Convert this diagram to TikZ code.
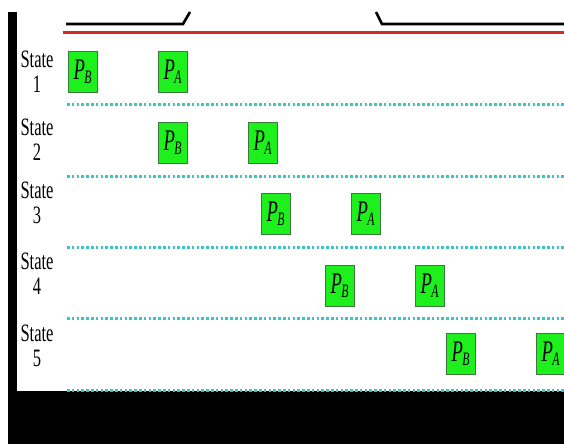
\documentclass[tikz,border=0pt]{standalone}
\usepackage{fontspec}
\setmainfont{Liberation Serif}
\usepackage{graphicx}
\definecolor{boxgreen}{HTML}{1EF01E}
\definecolor{boxedge}{HTML}{3A7A3A}
\definecolor{dotcyan}{HTML}{3EC4C8}
\definecolor{redline}{HTML}{D42A2A}
\tikzset{
  pbox/.style={draw=boxedge, line width=0.8pt, fill=boxgreen, minimum width=29pt, minimum height=41pt, inner sep=0pt, font=\fontsize{30}{30}\selectfont\itshape},
  slabel/.style={align=center, inner sep=0pt, font=\fontsize{25}{28}\selectfont},
  sep/.style={dotcyan, line width=3pt, dash pattern=on 2.6pt off 2.2pt},
}
\newcommand{\sq}[1]{\scalebox{0.66}[1]{#1}}
\newcommand{\pl}[1]{\scalebox{0.62}[1]{P\kern-1pt\raisebox{-4pt}{\fontsize{19}{19}\selectfont #1}}}
\begin{document}
\begin{tikzpicture}[x=1pt,y=-1pt]
\useasboundingbox (0,0) rectangle (564,444);
% black frame pieces
\fill[black] (8,12) rectangle (17,444);
\fill[black] (8,391) rectangle (564,444);
% brace segments
\draw[line width=2.6pt] (66,24) -- (183,24) -- (190,12);
\draw[line width=2.6pt] (376,12) -- (382,24) -- (564,24);
% red line
\draw[redline, line width=3pt] (63,33) -- (564,33);
% separators
\foreach \yy in {104,176,247,318,390} \draw[sep] (67,\yy) -- (564,\yy);
% state labels
\node[slabel] (s1) at (37,72) {\sq{State}\\[-3pt]\sq{1}};
\node[slabel] (s2) at (37,140) {\sq{State}\\[-3pt]\sq{2}};
\node[slabel] (s3) at (37,203) {\sq{State}\\[-3pt]\sq{3}};
\node[slabel] (s4) at (37,274) {\sq{State}\\[-3pt]\sq{4}};
\node[slabel] (s5) at (37,346) {\sq{State}\\[-3pt]\sq{5}};
% process boxes
\node[pbox] (b1) at (82.5,71.5) {\pl{B}};
\node[pbox] (a1) at (172.5,71.5) {\pl{A}};
\node[pbox] (b2) at (172.5,143) {\pl{B}};
\node[pbox] (a2) at (262.5,143) {\pl{A}};
\node[pbox] (b3) at (275.5,213.5) {\pl{B}};
\node[pbox] (a3) at (365.5,213.5) {\pl{A}};
\node[pbox] (b4) at (339.5,285.5) {\pl{B}};
\node[pbox] (a4) at (429.5,285.5) {\pl{A}};
\node[pbox] (b5) at (460.5,354) {\pl{B}};
\node[pbox] (a5) at (550.5,354) {\pl{A}};
\end{tikzpicture}
\end{document}
